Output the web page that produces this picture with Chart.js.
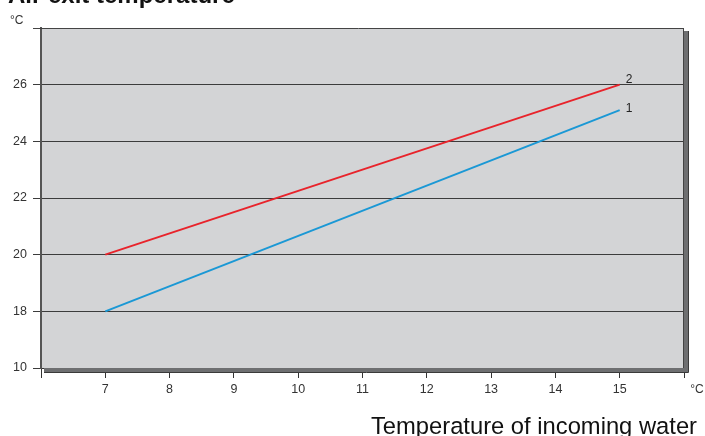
<!DOCTYPE html>
<html><head><meta charset="utf-8">
<script src="https://cdn.jsdelivr.net/npm/chart.js@4"></script>
<style>html,body{margin:0;padding:0;background:#fff;}#wrap{width:705px;height:436px;}</style>
</head><body><div id="wrap"><canvas id="c" width="705" height="436"></canvas></div>
<script>
const waterTemp = [7, 15];
const series1 = [18, 25.1];   // curve 1 (blue)
const series2 = [20, 26];     // curve 2 (red)
// y axis is broken: the baseline is labelled 10, then 18..26 in steps of 2
const yTickLabels = [10, 18, 20, 22, 24, 26];
const yAxisTop = 28;
const xTickLabels = [7, 8, 9, 10, 11, 12, 13, 14, 15];
const xAxisRange = [6, 16];
const seriesNames = ['1', '2'];
const titleText = 'Air exit temperature';
const xTitleText = 'Temperature of incoming water';
const unitText = '°C';

const FONT = '"Liberation Sans", Arial, Helvetica, sans-serif';
const yStep = yTickLabels[2] - yTickLabels[1];
const yBase = yTickLabels[1] - yStep; // position of the broken baseline
const yTickValues = [yBase].concat(yTickLabels.slice(1));

const decor = {
  id: 'decor',
  beforeDatasetsDraw(chart) {
    const {ctx, chartArea: a} = chart;
    ctx.save();
    ctx.fillStyle = '#6e6f71';
    ctx.fillRect(a.right, a.top + 3, 4, a.bottom - a.top + 1);
    ctx.fillRect(a.left + 3, a.bottom, a.right - a.left + 1, 4);
    ctx.strokeStyle = '#3a3a3a';
    ctx.lineWidth = 1;
    ctx.beginPath();
    ctx.moveTo(a.left + 3, a.bottom + 4.5); ctx.lineTo(a.right + 4.5, a.bottom + 4.5); ctx.lineTo(a.right + 4.5, a.top + 3);
    ctx.stroke();
    ctx.strokeStyle = '#444';
    ctx.beginPath();
    ctx.moveTo(a.left - 8, a.top + 0.5); ctx.lineTo(a.right, a.top + 0.5);
    ctx.moveTo(a.right - 0.5, a.top); ctx.lineTo(a.right - 0.5, a.bottom);
    ctx.stroke();
    ctx.restore();
  },
  afterDraw(chart) {
    const {ctx, chartArea: a, scales} = chart;
    ctx.save();
    ctx.fillStyle = '#111';
    ctx.font = 'bold 24px ' + FONT;
    ctx.textBaseline = 'alphabetic';
    ctx.textAlign = 'left';
    ctx.fillText(titleText, 8, 3);
    ctx.fillStyle = '#333';
    ctx.font = '12px ' + FONT;
    ctx.fillText(unitText, 10, 24);
    ctx.textAlign = 'center';
    ctx.fillText(unitText, a.right + 13, 393);
    ctx.fillStyle = '#111';
    let fs = 22;
    ctx.font = fs + 'px ' + FONT;
    const w = ctx.measureText(xTitleText).width;
    fs = fs * 326 / w;
    ctx.font = fs.toFixed(2) + 'px ' + FONT;
    ctx.textAlign = 'right';
    ctx.fillText(xTitleText, 697, 434);
    ctx.fillStyle = '#222';
    ctx.font = '12px ' + FONT;
    ctx.textAlign = 'left';
    const xs = scales.x, ys = scales.y;
    ctx.fillText(seriesNames[1], xs.getPixelForValue(waterTemp[1]) + 6, ys.getPixelForValue(series2[1]) - 2);
    ctx.fillText(seriesNames[0], xs.getPixelForValue(waterTemp[1]) + 6, ys.getPixelForValue(series1[1]) + 2);
    ctx.restore();
  }
};

const bgPlugin = {
  id: 'bg',
  beforeDraw(chart) {
    const {ctx, chartArea: a} = chart;
    ctx.save();
    ctx.fillStyle = '#d3d4d6';
    ctx.fillRect(a.left, a.top, a.right - a.left, a.bottom - a.top);
    ctx.restore();
  }
};

new Chart(document.getElementById('c'), {
  type: 'line',
  data: {
    datasets: [
      { label: seriesNames[0], data: waterTemp.map((x, i) => ({x, y: series1[i]})), borderColor: '#1a98d5', borderWidth: 2, pointRadius: 0, fill: false },
      { label: seriesNames[1], data: waterTemp.map((x, i) => ({x, y: series2[i]})), borderColor: '#e8232b', borderWidth: 2, pointRadius: 0, fill: false }
    ]
  },
  options: {
    responsive: false,
    animation: false,
    layout: { padding: { top: 28, right: 21, left: 0, bottom: 0 } },
    plugins: { legend: { display: false }, tooltip: { enabled: false }, title: { display: false } },
    scales: {
      x: {
        type: 'linear', min: xAxisRange[0], max: xAxisRange[1],
        afterFit(s) { s.height = 68; },
        afterBuildTicks(s) { s.ticks = [xAxisRange[0]].concat(xTickLabels, [xAxisRange[1]]).map(v => ({value: v})); },
        ticks: { color: '#333', font: { size: 12.5, family: FONT }, padding: 4, maxRotation: 0, autoSkip: false,
          callback: v => xTickLabels.includes(v) ? String(v) : '' },
        grid: { drawOnChartArea: false, drawTicks: true, tickLength: 10, color: '#333', lineWidth: 1 },
        border: { display: true, color: '#333', width: 1 }
      },
      y: {
        type: 'linear', min: yBase, max: yAxisTop,
        afterFit(s) { s.width = 41; },
        afterBuildTicks(s) { s.ticks = yTickValues.map(v => ({value: v})); },
        ticks: { color: '#333', font: { size: 12.5, family: FONT }, padding: 6, autoSkip: false,
          callback: (v) => String(yTickLabels[yTickValues.indexOf(v)]) },
        grid: { drawOnChartArea: true, drawTicks: true, tickLength: 8, color: '#3c3c3c', lineWidth: 1 },
        border: { display: true, color: '#555', width: 2 }
      }
    }
  },
  plugins: [bgPlugin, decor]
});
</script></body></html>
